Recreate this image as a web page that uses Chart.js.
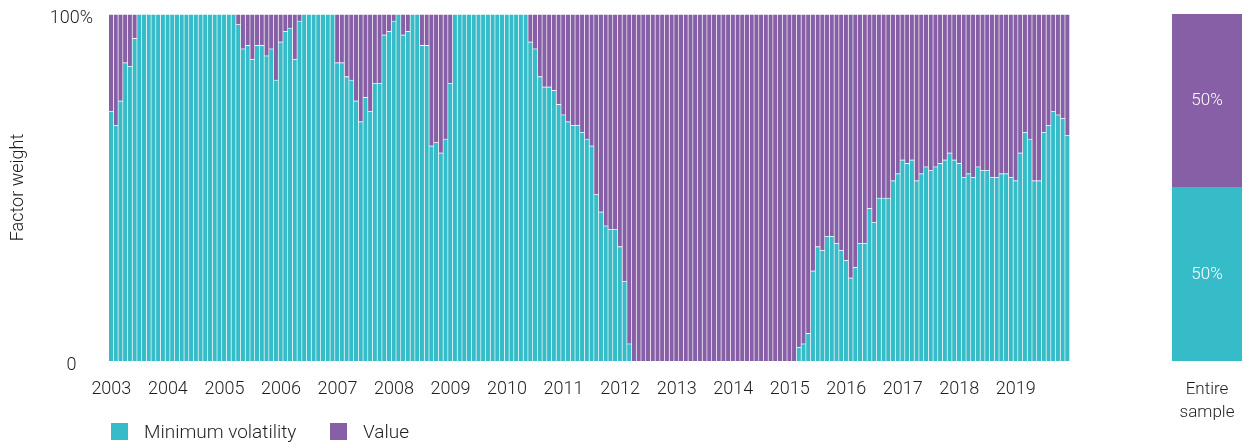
<!DOCTYPE html>
<html>
<head>
<meta charset="utf-8">
<script src="https://cdn.jsdelivr.net/npm/chart.js@4.4.1/dist/chart.umd.min.js"></script>
<style>
  html, body { margin: 0; padding: 0; background: #fff; }
  body { width: 1243px; height: 443px; position: relative; overflow: hidden;
         font-family: Roboto, "Liberation Sans", Arial, sans-serif; font-weight: 300; color: #1e1e1e; }
  #mainWrap { position: absolute; left: 0; top: 0; width: 1070px; height: 443px; }
  #sideWrap { position: absolute; left: 1160px; top: 0; width: 83px; height: 443px; }
  .legend { position: absolute; top: 423px; height: 17px; display: flex; align-items: center; }
  .legend .sw { width: 17px; height: 17px; margin-right: 16px; }
  .legend span { font-size: 19px; line-height: 17px; }
</style>
</head>
<body>
<div id="mainWrap"><canvas id="main"></canvas></div>
<div id="sideWrap"><canvas id="side"></canvas></div>
<div class="legend" style="left:111px"><div class="sw" style="background:#35bcc8"></div><span>Minimum volatility</span></div>
<div class="legend" style="left:330px"><div class="sw" style="background:#865fa7"></div><span>Value</span></div>
<script>
  "use strict";

  var YEARS = [2003, 2004, 2005, 2006, 2007, 2008, 2009, 2010, 2011,
               2012, 2013, 2014, 2015, 2016, 2017, 2018, 2019];

  // monthly factor weight (%), one row per year
  var MIN_VOL = [
    72, 68, 75, 86, 85, 93, 100, 100, 100, 100, 100, 100,       // 2003
    100, 100, 100, 100, 100, 100, 100, 100, 100, 100, 100, 100, // 2004
    100, 100, 100, 97, 90, 91, 87, 91, 91, 88, 90, 81,          // 2005
    92, 95, 96, 87, 98, 100, 100, 100, 100, 100, 100, 100,      // 2006
    86, 86, 82, 81, 75, 69, 76, 72, 80, 80, 94, 95,             // 2007
    98, 100, 94, 95, 100, 100, 91, 91, 62, 63, 60, 64,          // 2008
    80, 100, 100, 100, 100, 100, 100, 100, 100, 100, 100, 100,  // 2009
    100, 100, 100, 100, 100, 92, 90, 82, 79, 79, 78, 74,        // 2010
    71, 69, 68, 68, 66, 64, 62, 48, 43, 39, 38, 38,             // 2011
    33, 23, 5, 0, 0, 0, 0, 0, 0, 0, 0, 0,                       // 2012
    0, 0, 0, 0, 0, 0, 0, 0, 0, 0, 0, 0,                         // 2013
    0, 0, 0, 0, 0, 0, 0, 0, 0, 0, 0, 0,                         // 2014
    0, 0, 4, 5, 8, 26, 33, 32, 36, 36, 34, 32,                  // 2015
    29, 24, 27, 34, 34, 44, 40, 47, 47, 47, 52, 54,             // 2016
    58, 57, 58, 52, 54, 56, 55, 56, 57, 58, 60, 58,             // 2017
    57, 53, 54, 53, 56, 55, 55, 53, 53, 54, 54, 53,             // 2018
    52, 60, 66, 64, 52, 52, 66, 68, 72, 71, 70, 65              // 2019
  ];

  var VALUE = [
    28, 32, 25, 14, 15, 7, 0, 0, 0, 0, 0, 0,                    // 2003
    0, 0, 0, 0, 0, 0, 0, 0, 0, 0, 0, 0,                         // 2004
    0, 0, 0, 3, 10, 9, 13, 9, 9, 12, 10, 19,                    // 2005
    8, 5, 4, 13, 2, 0, 0, 0, 0, 0, 0, 0,                        // 2006
    14, 14, 18, 19, 25, 31, 24, 28, 20, 20, 6, 5,               // 2007
    2, 0, 6, 5, 0, 0, 9, 9, 38, 37, 40, 36,                     // 2008
    20, 0, 0, 0, 0, 0, 0, 0, 0, 0, 0, 0,                        // 2009
    0, 0, 0, 0, 0, 8, 10, 18, 21, 21, 22, 26,                   // 2010
    29, 31, 32, 32, 34, 36, 38, 52, 57, 61, 62, 62,             // 2011
    67, 77, 95, 100, 100, 100, 100, 100, 100, 100, 100, 100,    // 2012
    100, 100, 100, 100, 100, 100, 100, 100, 100, 100, 100, 100, // 2013
    100, 100, 100, 100, 100, 100, 100, 100, 100, 100, 100, 100, // 2014
    100, 100, 96, 95, 92, 74, 67, 68, 64, 64, 66, 68,           // 2015
    71, 76, 73, 66, 66, 56, 60, 53, 53, 53, 48, 46,             // 2016
    42, 43, 42, 48, 46, 44, 45, 44, 43, 42, 40, 42,             // 2017
    43, 47, 46, 47, 44, 45, 45, 47, 47, 46, 46, 47,             // 2018
    48, 40, 34, 36, 48, 48, 34, 32, 28, 29, 30, 35              // 2019
  ];

  var SAMPLE_LABEL = ["Entire", "sample"];
  var SAMPLE_MIN_VOL = [50];
  var SAMPLE_VALUE = [50];

  var CYAN = "#35bcc8";
  var PURPLE = "#865fa7";
  var INK = "#1e1e1e";
  var FONT = 'Roboto, "Liberation Sans", Arial, sans-serif';

  Chart.defaults.font.family = FONT;
  Chart.defaults.font.weight = "300";
  Chart.defaults.color = INK;
  Chart.defaults.animation = false;

  // one label per month; only Januaries show a year
  var labels = [];
  YEARS.forEach(function (y) {
    for (var m = 1; m <= 12; m++) labels.push(y + "-" + (m < 10 ? "0" + m : m));
  });

  var barStyle = {
    borderWidth: { top: 1, right: 1, left: 0, bottom: 0 },
    borderColor: "rgba(255,255,255,0.35)",
    borderSkipped: false,
    barPercentage: 1,
    categoryPercentage: 1
  };

  function ds(label, data, color) {
    return Object.assign({ label: label, data: data, backgroundColor: color }, barStyle);
  }

  // keep the plot edges fixed: no extra room for tick labels
  function noPad(s) {
    s.paddingLeft = 0; s.paddingRight = 0; s.paddingTop = 0; s.paddingBottom = 0;
  }

  new Chart(document.getElementById("main"), {
    type: "bar",
    data: {
      labels: labels,
      datasets: [ds("Minimum volatility", MIN_VOL, CYAN), ds("Value", VALUE, PURPLE)]
    },
    options: {
      responsive: true,
      maintainAspectRatio: false,
      layout: { padding: { top: 14, right: 0, left: 0, bottom: 0 } },
      plugins: { legend: { display: false }, tooltip: { enabled: false } },
      scales: {
        x: {
          stacked: true,
          grid: { display: false, drawTicks: false },
          border: { display: false },
          ticks: {
            autoSkip: false,
            maxRotation: 0,
            padding: 18,
            font: { size: 18 },
            color: INK,
            callback: function (v, i) {
              var l = labels[i];
              return l.slice(5) === "01" ? l.slice(0, 4) : "";
            }
          },
          afterFit: function (s) { s.height = 82; noPad(s); }
        },
        y: {
          stacked: true,
          min: 0,
          max: 100,
          grid: { display: false, drawTicks: false },
          border: { display: false },
          title: { display: true, text: "Factor weight", font: { size: 18 }, color: INK, padding: { top: 8, bottom: 0 } },
          ticks: {
            stepSize: 100,
            padding: 16,
            crossAlign: "center",
            labelOffset: 4,
            font: { size: 18 },
            color: INK,
            callback: function (v) { return v === 100 ? "100%" : "0"; }
          },
          afterFit: function (s) { s.width = 109; noPad(s); }
        }
      }
    }
  });

  // white % labels inside the entire-sample bar
  var insideLabels = {
    id: "insideLabels",
    afterDatasetsDraw: function (chart) {
      var ctx = chart.ctx;
      ctx.save();
      ctx.fillStyle = "#fff";
      ctx.font = "300 17px " + FONT;
      ctx.textAlign = "center";
      ctx.textBaseline = "middle";
      chart.data.datasets.forEach(function (d, di) {
        chart.getDatasetMeta(di).data.forEach(function (bar, i) {
          var p = bar.getProps(["x", "y", "base"], true);
          ctx.fillText(d.data[i] + "%", p.x, (p.y + p.base) / 2);
        });
      });
      ctx.restore();
    }
  };

  new Chart(document.getElementById("side"), {
    type: "bar",
    data: {
      labels: [SAMPLE_LABEL],
      datasets: [
        { label: "Minimum volatility", data: SAMPLE_MIN_VOL, backgroundColor: CYAN, barPercentage: 1, categoryPercentage: 1 },
        { label: "Value", data: SAMPLE_VALUE, backgroundColor: PURPLE, barPercentage: 1, categoryPercentage: 1 }
      ]
    },
    plugins: [insideLabels],
    options: {
      responsive: true,
      maintainAspectRatio: false,
      layout: { padding: { top: 14, right: 1, left: 12, bottom: 0 } },
      plugins: { legend: { display: false }, tooltip: { enabled: false } },
      scales: {
        x: {
          stacked: true,
          grid: { display: false, drawTicks: false },
          border: { display: false },
          ticks: { maxRotation: 0, padding: 17, font: { size: 17, lineHeight: 1.35 }, color: INK },
          afterFit: function (s) { s.height = 82; noPad(s); }
        },
        y: { stacked: true, min: 0, max: 100, display: false }
      }
    }
  });
</script>
</body>
</html>
